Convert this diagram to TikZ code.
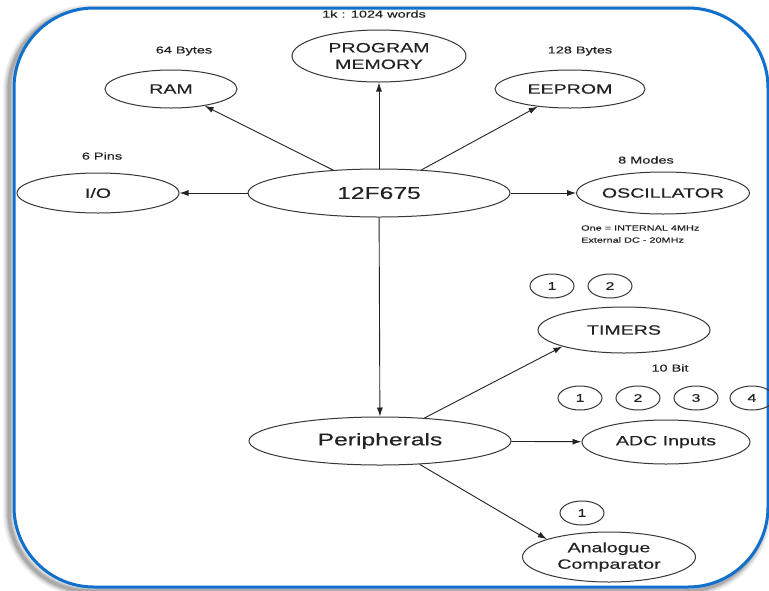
\documentclass[tikz,border=0pt]{standalone}
\usepackage{fontspec}
\setmainfont{Liberation Sans}[FakeStretch=1.45,FakeBold=0.4]
\usetikzlibrary{shapes.geometric,arrows.meta}
\definecolor{frameblue}{RGB}{16,112,204}
\definecolor{ink}{RGB}{35,35,35}
\definecolor{edge}{RGB}{55,55,55}
\tikzset{
  oval/.style={ellipse,draw=edge,line width=1pt,inner sep=0pt,text=ink,align=center},
  bigtxt/.style={font=\fontsize{17}{20}\selectfont},
  midtxt/.style={font=\fontsize{13.5}{16.5}\selectfont},
  numtxt/.style={font=\fontsize{11}{13}\selectfont},
  lbl/.style={text=ink,font=\fontsize{10}{12}\selectfont,inner sep=0pt},
  note/.style={text=ink,font=\fontsize{7.5}{12}\selectfont,inner sep=0pt,anchor=west},
  conn/.style={draw=ink,line width=0.9pt,-{Latex[length=9pt,width=6pt]}},
  numoval/.style={oval,numtxt,minimum width=44pt,minimum height=24pt}
}
\begin{document}
\begin{tikzpicture}[x=1pt,y=-1pt]
\useasboundingbox (0,0) rectangle (769,590);
% shadow
\foreach \w/\o in {12/0.06,9/0.08,6/0.1,3.5/0.14}
  \draw[line width=\w pt,black,opacity=\o,rounded corners=80pt] (9,11) rectangle (765,591);
% frame
\draw[frameblue,line width=3pt,fill=white,rounded corners=80pt] (14,8) rectangle (768,587);

% main nodes
\node[oval,midtxt,minimum width=174pt,minimum height=52pt] (pm) at (379,56) {PROGRAM\\MEMORY};
\node[oval,midtxt,minimum width=132pt,minimum height=38pt] (ram) at (171,89) {RAM};
\node[oval,midtxt,minimum width=150pt,minimum height=38pt] (eep) at (570,89) {EEPROM};
\node[oval,midtxt,minimum width=162pt,minimum height=40pt] (io) at (98,193) {I/O};
\node[oval,bigtxt,minimum width=262pt,minimum height=48pt] (mcu) at (379,193) {12F675};
\node[oval,midtxt,minimum width=160pt,minimum height=42pt] (osc) at (663,193) {OSCILLATOR};
\node[oval,midtxt,minimum width=172pt,minimum height=46pt] (tim) at (624,330) {TIMERS};
\node[oval,midtxt,minimum width=168pt,minimum height=44pt] (adc) at (666,442) {ADC Inputs};
\node[oval,bigtxt,minimum width=262pt,minimum height=48pt] (per) at (380,441) {Peripherals};
\node[oval,midtxt,minimum width=173pt,minimum height=50pt] (cmp) at (609,557) {Analogue\\Comparator};

% number ovals
\node[numoval] (t1) at (552,286) {1};
\node[numoval] (t2) at (610,286) {2};
\node[numoval] (a1) at (580,398) {1};
\node[numoval] (a2) at (638,398) {2};
\node[numoval] (a3) at (696,398) {3};
\node[numoval] (a4) at (752,398) {4};
\node[numoval] (c1) at (582,513) {1};

% labels
\node[lbl] (l1) at (374,14) {1k : 1024 words};
\node[lbl] (l2) at (184,51) {64 Bytes};
\node[lbl] (l3) at (580,51) {128 Bytes};
\node[lbl] (l4) at (102,156) {6 Pins};
\node[lbl] (l5) at (646,160) {8 Modes};
\node[note] (l6) at (581,228) {One = INTERNAL 4MHz};
\node[note] (l7) at (581,240) {External DC - 20MHz};
\node[lbl] (l8) at (670,368) {10 Bit};

% connectors
\draw[conn] (mcu) -- (pm);
\draw[conn] (mcu) -- (ram);
\draw[conn] (mcu) -- (eep);
\draw[conn] (mcu) -- (io);
\draw[conn] (mcu) -- (osc);
\draw[conn] (mcu) -- (per);
\draw[conn] (per) -- (tim.195);
\draw[conn] (per) -- (adc);
\draw[conn] (per) -- (cmp.164);
\end{tikzpicture}
\end{document}
